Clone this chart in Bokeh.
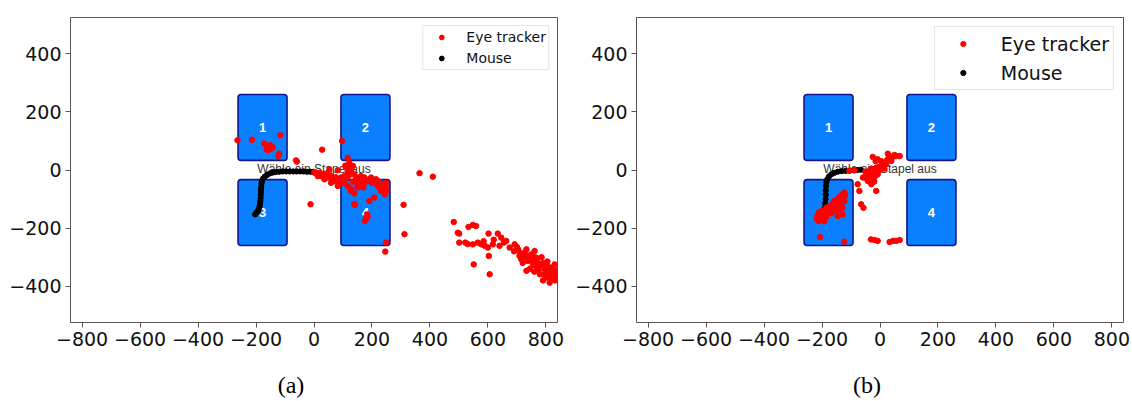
from bokeh.plotting import figure
from bokeh.models import Range1d, FixedTicker, Legend, LegendItem, Div, ColumnDataSource
from bokeh.layouts import row, column
from bokeh.embed import file_html
from bokeh.resources import INLINE
from bokeh.core.properties import value

# Screen coordinates (pixels, origin at screen centre)
x_limits = (-840, 840)
y_limits = (-525, 525)
x_ticks = [-800, -600, -400, -200, 0, 200, 400, 600, 800]
y_ticks = [-400, -200, 0, 200, 400]

# The four card stacks shown on screen
card_left = [-262, 93, -262, 93]
card_right = [-93, 262, -93, 262]
card_bottom = [33, 33, -260, -260]
card_top = [260, 260, -33, -33]
card_labels = ["1", "2", "3", "4"]
prompt_text = "Wähle ein Stapel aus"

# Trial (a)
eye_a_x = [-264, -214, -172, -160, -155, -146, -163, -151, -143, -158, -116, -120, -123, -62, -59,
           28, 97, 1, 8, 13, 24, 36, 47, 59, 70, 82, 93, 105, 116, 128, 139, 116, 128, 139, 151,
           162, 174, 185, 197, 214, 220, 237, 243, 249, 245, 249, 139, 176, 180, 183, 181, 191,
           208, 116, 122, 134, 111, 82, 53, -12, 309, 312, 249, 246, 364, 410, 7, 36, 59, 70,
           82, 105, 156, 174, 162, 191, 214, 231, 142, 185, 128, 13, 90, 150,
           20, 30, 45, 60, 75, 90, 100, 110, 120, 135, 145, 160, 170, 200, 225, 240, 250, 120,
           108]
eye_a_y = [102, 104, 91, 83, 77, 74, 71, 85, 79, 68, 120, 56, 48, 33, 29,
           70, 100, -9, -12, -15, -21, -13, -26, -21, -32, -38, -26, -21, -9, -3, -15, -55, -72,
           -81, -49, -38, -26, -38, -26, -32, -55, -49, -61, -72, -84, -44, -118, -175, -164,
           -153, -168, -107, -95, 42, 25, 14, 8, -1, 2, -118, -120, -221, -250, -281, -11, -23,
           -9, -32, -44, -38, -55, -38, -32, -44, -21, -32, -44, -72, -120, -160, -66, -21, -30,
           -60,
           -10, -18, -15, -30, -25, -35, -45, -30, -20, -40, -25, -55, -60, -45, -40, -55, -65, 5,
           15]
eye_a_x += [482, 496, 501, 522, 533, 548, 559, 551, 602, 606, 577, 589, 600, 603, 617, 634,
            646, 640, 663, 675, 692, 704, 709, 715, 727, 733, 738, 750, 756, 767, 773, 779, 784,
            796, 802, 807, 813, 819, 825, 830, 836, 733, 761, 548, 565, 501, 690, 720, 745, 760,
            790, 805, 820, 838, 700, 655, 620, 585, 530,
            760, 770, 780, 790, 800, 810, 815, 825, 832, 840, 795, 775, 765, 750, 740, 725, 710,
            785, 805, 830]
eye_a_y += [-179, -216, -219, -250, -196, -189, -193, -325, -219, -359, -256, -261, -267, -296,
            -256, -219, -233, -261, -244, -267, -256, -273, -296, -307, -284, -347, -313, -290,
            -325, -302, -336, -359, -325, -342, -370, -353, -388, -336, -365, -347, -370, -273,
            -279, -256, -250, -250, -280, -320, -340, -350, -380, -330, -375, -345, -265, -250,
            -240, -245, -255,
            -300, -315, -330, -320, -345, -360, -340, -355, -380, -360, -360, -345, -330, -310,
            -295, -300, -285, -300, -315, -325]
mouse_a_x = [-203, -200, -197, -193, -190, -188, -186, -185, -184, -184, -183, -183, -182, -181,
             -180, -176, -170, -162, -153, -143, -132, -120, -108, -96, -84, -72, -60, -48, -36,
             -24, -12, -2]
mouse_a_y = [-153, -149, -145, -140, -133, -125, -116, -106, -96, -86, -76, -66, -56, -46, -38,
             -30, -23, -17, -12, -9, -7, -6, -5, -5, -5, -5, -5, -5, -5, -6, -6, -6]

# Trial (b)
eye_b_x = [-25, -8, 27, 33, 50, 68, 10, 21, 39, -13, -36, -48, -59, -42, -25, -30, -19, -2, -71,
           -65, -57, -13, -8, 4, -77, -88, -106, -20, -35, 15,
           -40, -35, -28, -20, -15, -10, 0, -5, 15, 25, 40, 55, -30, -45, -22, -50, -15, 5,
           -216, -210, -204, -198, -192, -187, -181, -175, -169, -164, -158, -152, -146, -141,
           -135, -129, -123, -204, -192, -212, -175, -164, -152, -141, -146, -129, -141, -123,
           -129, -200, -185, -170, -207, -123,
           -215, -208, -200, -195, -190, -183, -178, -172, -168, -160, -155, -150, -143, -137,
           -130, -125, -120, -218, -210, -200, -185, -165, -155, -135,
           -31, -19, -8, 33, 45, 56, 68]
eye_b_y = [45, 37, 56, 48, 52, 48, 25, 20, 31, 8, -3, -15, -26, -38, -26, -49, -9, 2, -72,
           -118, -130, -72, -15, 14, -49, -1, -3, -40, -10, 5,
           -10, -20, -15, -5, -20, -10, 0, 10, 25, 35, 40, 48, 5, -30, -35, -5, 30, 30,
           -164, -153, -147, -158, -141, -153, -135, -124, -130, -118, -107, -112, -101, -95,
           -90, -84, -78, -170, -176, -176, -147, -141, -141, -135, -158, -130, -118, -107,
           -153, -165, -160, -150, -231, -247,
           -155, -160, -165, -150, -160, -145, -140, -135, -120, -125, -115, -105, -110, -100,
           -92, -85, -88, -168, -145, -140, -130, -145, -130, -120,
           -239, -241, -244, -248, -244, -244, -241]
mouse_b_x = [-190, -189, -188, -187, -187, -186, -185, -182, -176, -168, -158, -146, -132, -118,
             -104, -90, -78, -66]
mouse_b_y = [-130, -115, -100, -85, -70, -55, -42, -32, -22, -15, -10, -6, -4, -3, -2, -1, 0, 1]

panel_captions = ["(a)", "(b)"]

TICK_FONT = "DejaVu Sans"


def make_panel(eye_x, eye_y, mouse_x, mouse_y, legend_style):
    p = figure(width=566, height=360, output_backend="svg", toolbar_location=None,
               x_range=Range1d(*x_limits), y_range=Range1d(*y_limits),
               min_border_left=70, min_border_right=9, min_border_top=17,
               min_border_bottom=38)
    p.background_fill_color = "white"
    p.border_fill_color = "white"
    p.xgrid.visible = False
    p.ygrid.visible = False
    p.outline_line_color = "#555555"
    p.outline_line_width = 1

    for ax, ticks in ((p.xaxis, x_ticks), (p.yaxis, y_ticks)):
        ax.ticker = FixedTicker(ticks=ticks)
        ax.major_label_overrides = {t: str(t).replace("-", "\u2212") for t in ticks}
        ax.major_label_text_font = TICK_FONT
        ax.major_label_text_font_size = "19px"
        ax.major_label_text_color = "#111111"
        ax.axis_line_color = None
        ax.major_tick_line_color = "#555555"
        ax.major_tick_out = 5
        ax.major_tick_in = 0
        ax.minor_tick_line_color = None
        ax.major_label_standoff = 4

    cards = ColumnDataSource(dict(
        left=card_left, right=card_right, bottom=card_bottom, top=card_top,
        cx=[(l + r) / 2 for l, r in zip(card_left, card_right)],
        cy=[(b + t) / 2 for b, t in zip(card_bottom, card_top)],
        label=card_labels))
    p.quad(left="left", right="right", bottom="bottom", top="top", source=cards,
           fill_color="#0a80ff", line_color="#14148c", line_width=1.6, border_radius=3)
    p.text(x="cx", y="cy", text="label", source=cards, text_color="white",
           text_font=value("Liberation Sans"), text_font_size="13px",
           text_font_style="bold", text_align="center", text_baseline="middle")
    p.text(x=[0], y=[2], text=[prompt_text], text_color="#333333",
           text_font=value("Liberation Sans"), text_font_size="12px",
           text_align="center", text_baseline="middle")

    r_mouse = p.scatter(mouse_x, mouse_y, size=5.2, color="black")
    r_eye = p.scatter(eye_x, eye_y, size=5.5, color="#ff0000")

    legend = Legend(items=[LegendItem(label="Eye tracker", renderers=[r_eye]),
                           LegendItem(label="Mouse", renderers=[r_mouse])],
                    location="top_right", orientation="vertical",
                    border_line_color="#cccccc", border_line_width=1,
                    background_fill_color="white", background_fill_alpha=1.0,
                    label_text_font=TICK_FONT, label_text_color="#111111",
                    **legend_style)
    p.add_layout(legend, "center")
    return p


legend_a = dict(label_text_font_size="14px", glyph_width=32, glyph_height=12,
                label_height=18, spacing=3, padding=2, label_standoff=9, margin=8)
legend_b = dict(label_text_font_size="19px", glyph_width=48, glyph_height=13,
                label_height=25, spacing=4, padding=4, label_standoff=14, margin=9)

p_a = make_panel(eye_a_x, eye_a_y, mouse_a_x, mouse_a_y, legend_a)
p_b = make_panel(eye_b_x, eye_b_y, mouse_b_x, mouse_b_y, legend_b)


def caption(text):
    return Div(text=text, width=566, height=41,
               styles={"font-family": "Liberation Serif", "font-size": "24px",
                       "line-height": "26px", "padding-top": "7px",
                       "padding-left": "6px", "text-align": "center",
                       "width": "566px", "color": "black", "box-sizing": "border-box"})


layout = column(row(p_a, p_b), row(caption(panel_captions[0]), caption(panel_captions[1])))

with open("out.html", "w") as f:
    f.write(file_html(layout, INLINE))
